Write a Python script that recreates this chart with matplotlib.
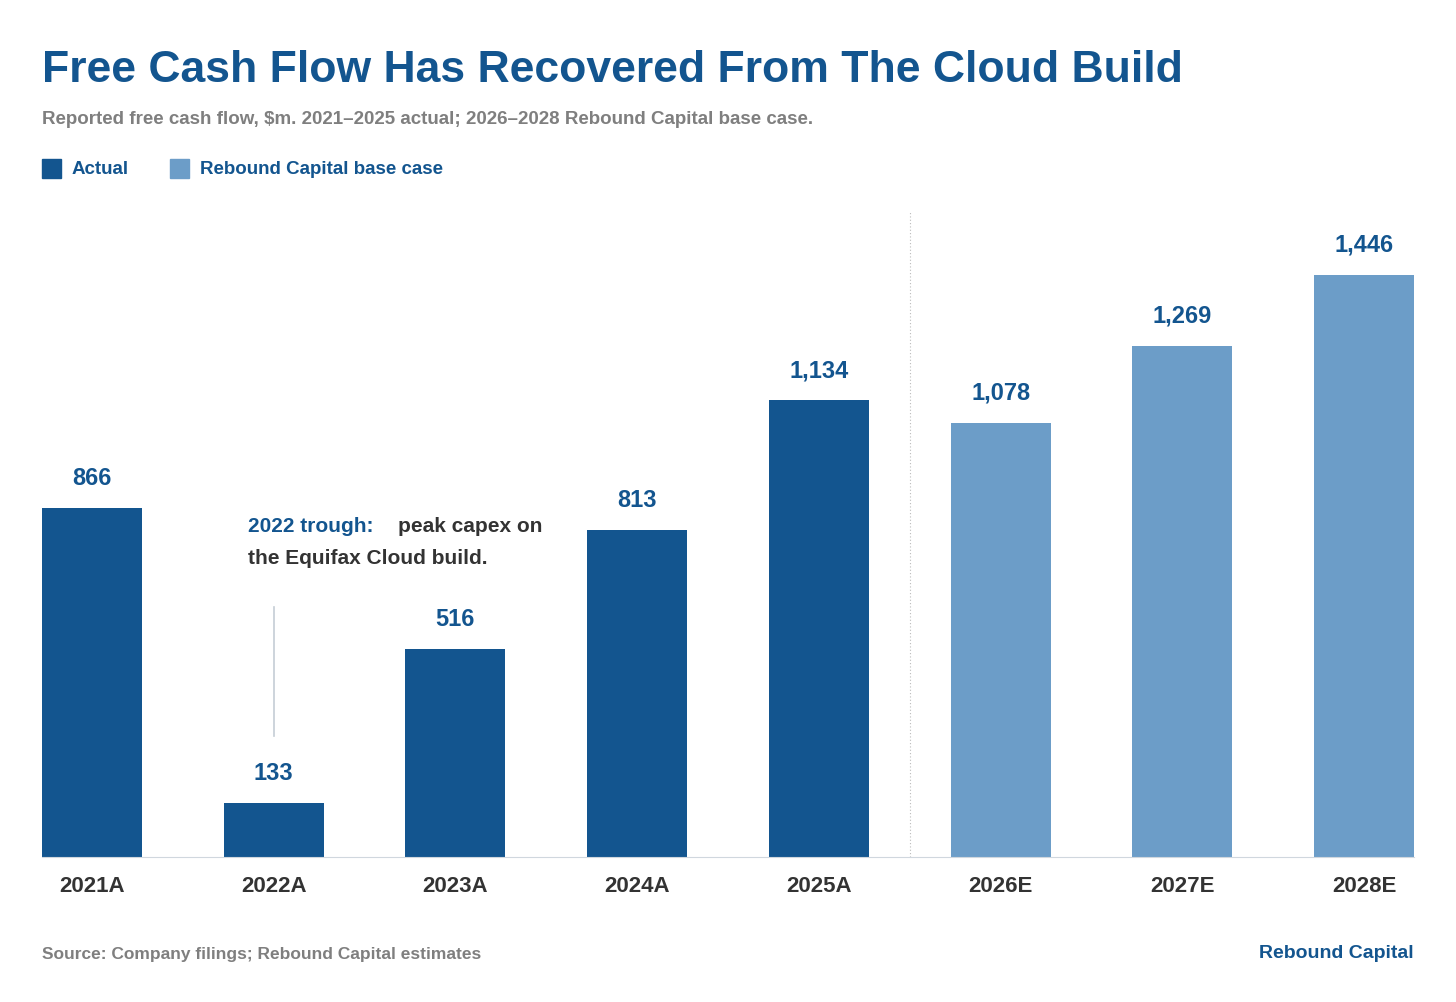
import matplotlib
matplotlib.use("Agg")
import matplotlib.pyplot as plt
from matplotlib.patches import Rectangle

plt.rcParams['font.family'] = ['Liberation Sans', 'DejaVu Sans']

categories = ["2021A", "2022A", "2023A", "2024A", "2025A", "2026E", "2027E", "2028E"]
values = [866, 133, 516, 813, 1134, 1078, 1269, 1446]
is_actual = [True, True, True, True, True, False, False, False]

DARK = "#13558F"
LIGHT = "#6C9DC8"
GRAY = "#7F7F7F"
TEXT = "#333333"

fig = plt.figure(figsize=(14.56, 10.02), dpi=100)
ax = fig.add_axes([42/1456, 145/1002, 1372/1456, 645/1002])
x = list(range(len(categories)))
colors = [DARK if a else LIGHT for a in is_actual]
ax.bar(x, values, width=0.55, color=colors)
ax.set_xlim(-0.275, 7.275)
ax.set_ylim(0, 1602)
for xi, v in zip(x, values):
    ax.text(xi, v + 45, f"{v:,}", ha="center", va="bottom", fontsize=17,
            fontweight="bold", color=DARK)
ax.set_xticks(x)
ax.set_xticklabels(categories, fontsize=16, fontweight="bold", color=TEXT)
ax.tick_params(axis="x", length=0, pad=14)
ax.set_yticks([])
for s in ["top", "right", "left"]:
    ax.spines[s].set_visible(False)
ax.spines["bottom"].set_color("#D0D7DE")
ax.axvline(4.5, color="#BBBBBB", lw=0.8, ls=(0, (1, 2)), ymin=0, ymax=1)

# annotation
ax.plot([0.0 + 1, 1], [300, 620], color="#C5CDD5", lw=1.2)
fig.text(248/1456, 1 - 526/1002, "2022 trough:", fontsize=15, fontweight="bold",
         color=DARK, va="center")
fig.text(398/1456, 1 - 526/1002, "peak capex on", fontsize=15, fontweight="bold",
         color=TEXT, va="center")
fig.text(248/1456, 1 - 558/1002, "the Equifax Cloud build.", fontsize=15,
         fontweight="bold", color=TEXT, va="center")

fig.text(42/1456, 1 - 70/1002, "Free Cash Flow Has Recovered From The Cloud Build",
         fontsize=32, fontweight="bold", color=DARK, va="center")
fig.text(42/1456, 1 - 120/1002,
         "Reported free cash flow, $m. 2021\u20132025 actual; 2026\u20132028 Rebound Capital base case.",
         fontsize=13.5, fontweight="bold", color=GRAY, va="center")
# legend
fig.patches.append(Rectangle((42/1456, 1 - 178/1002), 19/1456, 19/1002,
                             transform=fig.transFigure, color=DARK))
fig.text(72/1456, 1 - 169/1002, "Actual", fontsize=13.5, fontweight="bold",
         color=DARK, va="center")
fig.patches.append(Rectangle((170/1456, 1 - 178/1002), 19/1456, 19/1002,
                             transform=fig.transFigure, color=LIGHT))
fig.text(200/1456, 1 - 169/1002, "Rebound Capital base case", fontsize=13.5,
         fontweight="bold", color=DARK, va="center")

fig.text(42/1456, 1 - 954/1002, "Source: Company filings; Rebound Capital estimates",
         fontsize=12.5, fontweight="bold", color=GRAY, va="center")
fig.text(1414/1456, 1 - 954/1002, "Rebound Capital", fontsize=14,
         fontweight="bold", color=DARK, va="center", ha="right")

fig.savefig("out.png", dpi=100, facecolor="white")
